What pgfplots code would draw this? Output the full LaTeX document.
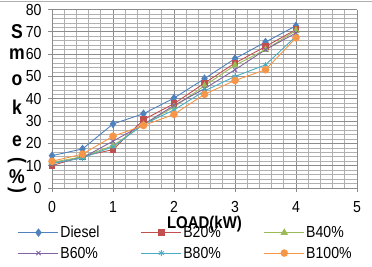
\documentclass[border=0pt]{standalone}
\usepackage{pgfplots}
\pgfplotsset{compat=1.18}
\usepackage{fontspec}
\setmainfont{Liberation Sans}[FakeStretch=0.88]
\setsansfont{Liberation Sans}[FakeStretch=0.88]

\definecolor{cDiesel}{HTML}{4F81BD}
\definecolor{cB20}{HTML}{C0504D}
\definecolor{cB40}{HTML}{9BBB59}
\definecolor{cB60}{HTML}{8064A2}
\definecolor{cB80}{HTML}{4BACC6}
\definecolor{cB100}{HTML}{F79646}
\definecolor{majgrid}{HTML}{8C8C8C}
\definecolor{mingrid}{HTML}{B0B0B0}

\begin{document}
\begin{tikzpicture}
\path[use as bounding box] (0pt,0pt) rectangle (372pt,266pt);
\draw[mingrid, line width=0.8pt] (0pt,265pt) -- (372pt,265pt);
\begin{axis}[
  at={(52pt,78pt)}, anchor=origin,
  scale only axis, width=305pt, height=178.5pt,
  xmin=0, xmax=5, ymin=0, ymax=80,
  xtick={0,1,2,3,4,5}, ytick={0,10,...,80},
  minor x tick num=4, minor y tick num=4,
  grid=both,
  major grid style={majgrid, line width=0.8pt},
  minor grid style={mingrid, line width=0.6pt},
  axis line style={majgrid, line width=0.8pt},
  axis x line*=bottom, axis y line*=left,
  tick style={majgrid, line width=0.8pt},
  major tick length=4pt, minor tick length=0pt,
  tick align=outside,
  ticklabel style={font=\fontsize{16}{18}\selectfont, text=black},
  xticklabel style={yshift=-6pt},
  yticklabel style={xshift=-3pt},
  /pgf/number format/assume math mode=true,
  xlabel={\textbf{LOAD(kW)}},
  xlabel style={font=\fontsize{17}{19}\selectfont, at={(axis description cs:0.5,0)}, anchor=north, yshift=-25pt, xshift=0pt},
  legend columns=3,
  legend cell align=left,
  legend style={at={(axis description cs:-0.112,-0.205)}, anchor=north west,
    draw=none, fill=none, font=\fontsize{16}{18}\selectfont,
    inner sep=0pt, row sep=5pt, column sep=0pt,
    nodes={inner sep=1.5pt, text depth=0.2ex},
    /tikz/every even column/.append style={text width=79pt}},
  legend image code/.code={\draw[mark repeat=2,mark phase=2] plot coordinates {(0pt,0pt) (20pt,0pt) (40pt,0pt)};},
  every axis plot/.append style={line width=0.9pt, mark size=3pt},
]
\addplot[cDiesel, mark=diamond*, mark size=3.6pt] coordinates {
  (0,14.5) (0.5,17.5) (1,28.7) (1.5,33.3) (2,40.3) (2.5,49) (3,58) (3.5,65.4) (4,72.7)};
\addlegendentry{Diesel}
\addplot[cB20, mark=square*, mark size=2.8pt] coordinates {
  (0,10) (0.5,14.2) (1,17.2) (1.5,30.6) (2,37.8) (2.5,47) (3,56) (3.5,63.4) (4,71)};
\addlegendentry{B20\%}
\addplot[cB40, mark=triangle*, mark size=3.4pt] coordinates {
  (0,11.5) (0.5,14) (1,19) (1.5,28.4) (2,36.3) (2.5,45.8) (3,55) (3.5,62) (4,70.6)};
\addlegendentry{B40\%}
\addplot[cB60, mark=x, mark size=3pt] coordinates {
  (0,11) (0.5,13.5) (1,21) (1.5,28.5) (2,37) (2.5,44.5) (3,53) (3.5,62) (4,69.5)};
\addlegendentry{B60\%}
\addplot[cB80, mark=asterisk, mark size=3pt] coordinates {
  (0,11) (0.5,13.5) (1,18.5) (1.5,28.5) (2,35) (2.5,43.5) (3,50) (3.5,55.2) (4,68)};
\addlegendentry{B80\%}
\addplot[cB100, mark=*, mark size=3.3pt] coordinates {
  (0,12) (0.5,15.2) (1,23.2) (1.5,28) (2,33) (2.5,42) (3,48.2) (3.5,53) (4,67.3)};
\addlegendentry{B100\%}
\end{axis}
% stacked y-axis title
\begin{scope}[every node/.style={font=\fontsize{20}{22}\selectfont\bfseries, inner sep=0pt}]
\node at (17pt,234pt) {S};
\node at (17pt,212pt) {m};
\node at (17pt,186pt) {o};
\node at (17pt,159pt) {k};
\node at (17pt,125pt) {e};
\node[rotate=-90] at (17pt,106pt) {(};
\node at (17pt,89pt) {\%};
\node[rotate=-90] at (17pt,76pt) {)};
\end{scope}
\end{tikzpicture}
\end{document}
